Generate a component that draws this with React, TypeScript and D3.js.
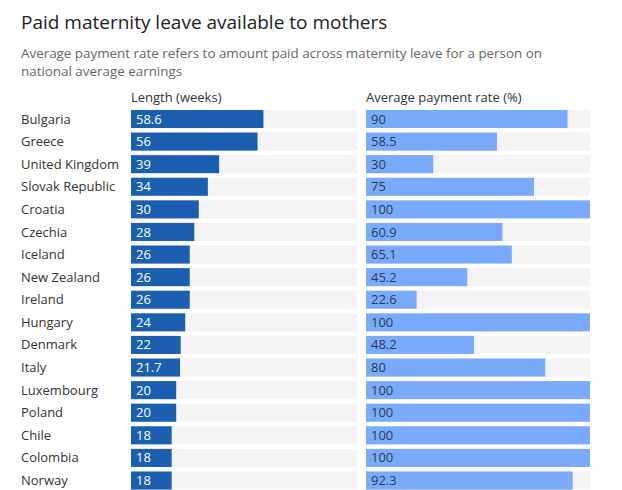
import React from "react";
import * as d3 from "d3";

const countries = ["Bulgaria","Greece","United Kingdom","Slovak Republic","Croatia","Czechia","Iceland","New Zealand","Ireland","Hungary","Denmark","Italy","Luxembourg","Poland","Chile","Colombia","Norway"];
const lengthWeeks = [58.6,56,39,34,30,28,26,26,26,24,22,21.7,20,20,18,18,18];
const paymentRate = [90,58.5,30,75,100,60.9,65.1,45.2,22.6,100,48.2,80,100,100,100,100,92.3];
const colHeaders = ["Length (weeks)", "Average payment rate (%)"];

const W = 622, H = 490;
const font = "'Open Sans', 'Noto Sans', sans-serif";

export default function App() {
  const y = d3.scaleBand<string>().domain(countries).range([109.5, 490]).paddingInner(0.2).paddingOuter(0.02);
  const xL = d3.scaleLinear().domain([0, 100]).range([131, 357]);
  const xR = d3.scaleLinear().domain([0, 100]).range([366, 590]);
  const bh = y.bandwidth();
  return (
    <svg width={W} height={H} style={{ position: "absolute", left: 0, top: 0, fontFamily: font }}>
      <rect width={W} height={H} fill="#fff" />
      <text x={21} y={29} fontSize={19} fill="#222" fontWeight={500}>Paid maternity leave available to mothers</text>
      <text x={21} y={58} fontSize={13.4} fill="#666">Average payment rate refers to amount paid across maternity leave for a person on</text>
      <text x={21} y={76} fontSize={13.4} fill="#666">national average earnings</text>
      <text x={131} y={102} fontSize={13} fill="#333">{colHeaders[0]}</text>
      <text x={366} y={102} fontSize={13} fill="#333">{colHeaders[1]}</text>
      {countries.map((c, i) => {
        const yy = y(c)!;
        return (
          <g key={c}>
            <text x={21} y={yy + bh / 2} dy="0.35em" fontSize={13} fill="#333">{c}</text>
            <rect x={xL(0)} y={yy} width={xL(100) - xL(0)} height={bh} fill="#f4f4f4" />
            <rect x={xL(0)} y={yy} width={xL(lengthWeeks[i]) - xL(0)} height={bh} fill="#1b5fb1" />
            <text x={xL(0) + 5} y={yy + bh / 2} dy="0.35em" fontSize={13} fill="#fff">{lengthWeeks[i]}</text>
            <rect x={xR(0)} y={yy} width={xR(100) - xR(0)} height={bh} fill="#f4f4f4" />
            <rect x={xR(0)} y={yy} width={xR(paymentRate[i]) - xR(0)} height={bh} fill="#7aabfb" />
            <text x={xR(0) + 5} y={yy + bh / 2} dy="0.35em" fontSize={13} fill="#2a3b55">{paymentRate[i]}</text>
          </g>
        );
      })}
    </svg>
  );
}
